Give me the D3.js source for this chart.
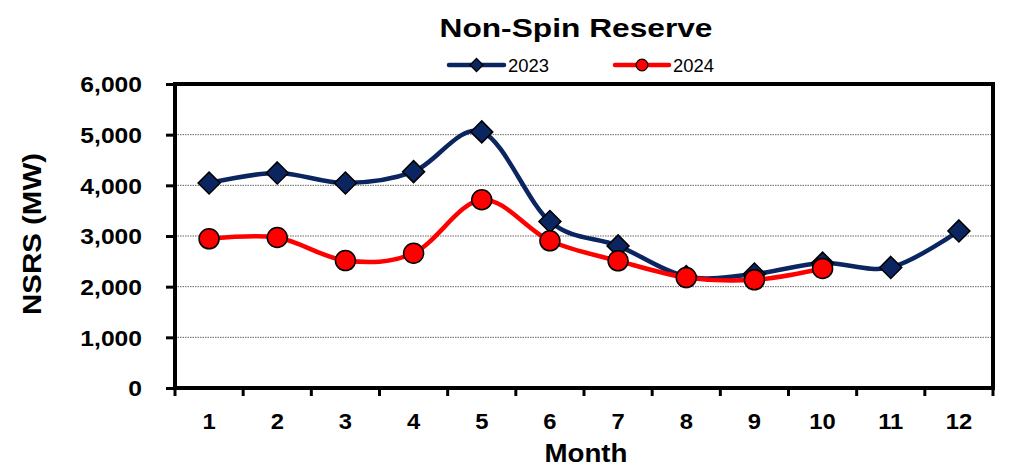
<!DOCTYPE html>
<html>
<head>
<meta charset="utf-8">
<script src="https://cdn.jsdelivr.net/npm/d3@7"></script>
<style>
  html, body { margin: 0; padding: 0; background: #fff; }
  svg { display: block; font-family: "Liberation Sans", Arial, sans-serif; }
</style>
</head>
<body>
<svg id="chart" width="1014" height="470"></svg>
<script>
const months = [1, 2, 3, 4, 5, 6, 7, 8, 9, 10, 11, 12];
const monthLabels = ["1","2","3","4","5","6","7","8","9","10","11","12"];
const series2023 = [4045, 4245, 4045, 4270, 5055, 3285, 2805, 2200, 2250, 2465, 2380, 3100];
const series2024 = [2945, 2970, 2515, 2660, 3715, 2905, 2510, 2180, 2135, 2360];
const yTicks = [0, 1000, 2000, 3000, 4000, 5000, 6000];
const seriesNames = ["2023", "2024"];
const colors = { "2023": "#0b2560", "2024": "#ff0000" };

(function () {
const svg = d3.select("#chart");
const pL = 175, pR = 993, pT = 84, pB = 388;

const x = d3.scaleBand().domain(months).range([pL, pR]).paddingInner(0).paddingOuter(0);
const y = d3.scaleLinear().domain([0, 6000]).range([pB, pT]);
const cx = m => x(m) + x.bandwidth() / 2;

function stretch(sel, factor) {
  sel.each(function () {
    const n = this.getComputedTextLength();
    d3.select(this).attr("textLength", n * factor).attr("lengthAdjust", "spacingAndGlyphs");
  });
}

// gridlines
svg.append("g").selectAll("line")
  .data(yTicks.filter(t => t > 0 && t < 6000))
  .join("line")
  .attr("x1", pL).attr("x2", pR)
  .attr("y1", d => y(d)).attr("y2", d => y(d))
  .attr("stroke", "#666").attr("stroke-width", 1).attr("stroke-dasharray", "1.5,1");

// y axis
const yAxis = d3.axisLeft(y).tickValues(yTicks).tickSize(9).tickPadding(22)
  .tickFormat(d3.format(","));
const gy = svg.append("g").attr("transform", `translate(${pL},0)`).call(yAxis);
gy.select(".domain").remove();
gy.selectAll(".tick line").attr("stroke", "#000").attr("stroke-width", 3);
gy.selectAll(".tick text").attr("font-size", 22).attr("font-weight", "bold")
  .attr("fill", "#000").attr("font-family", "'Liberation Sans', Arial, sans-serif")
  .attr("x", -33).attr("dy", "0.36em");
stretch(gy.selectAll(".tick text"), 1.12);

// x axis ticks at boundaries
const boundaries = months.map(m => x(m)).concat([pR]);
svg.append("g").selectAll("line").data(boundaries).join("line")
  .attr("x1", d => d).attr("x2", d => d)
  .attr("y1", pB).attr("y2", pB + 8)
  .attr("stroke", "#000").attr("stroke-width", 3);

const xAxis = d3.axisBottom(x).tickFormat((d, i) => monthLabels[i]).tickSize(0).tickPadding(0);
const gx = svg.append("g").attr("transform", `translate(0,${pB})`).call(xAxis);
gx.select(".domain").remove();
gx.selectAll(".tick text").attr("font-size", 22).attr("font-weight", "bold")
  .attr("fill", "#000").attr("font-family", "'Liberation Sans', Arial, sans-serif")
  .attr("y", 41).attr("dy", 0);
stretch(gx.selectAll(".tick text"), 1.08);

// frame
svg.append("rect").attr("x", pL).attr("y", pT)
  .attr("width", pR - pL).attr("height", pB - pT)
  .attr("fill", "none").attr("stroke", "#000").attr("stroke-width", 4);

// lines
const line = d3.line().x(d => cx(d.m)).y(d => y(d.v)).curve(d3.curveCardinal.tension(0));
const d23 = series2023.map((v, i) => ({ m: months[i], v }));
const d24 = series2024.map((v, i) => ({ m: months[i], v }));

const diamond = s => `M0,${-s}L${s},0L0,${s}L${-s},0Z`;

svg.append("path").datum(d23).attr("d", line).attr("fill", "none")
  .attr("stroke", colors["2023"]).attr("stroke-width", 4.5);
svg.append("g").selectAll("path").data(d23).join("path")
  .attr("transform", d => `translate(${cx(d.m)},${y(d.v)})`)
  .attr("d", diamond(11)).attr("fill", colors["2023"])
  .attr("stroke", "#000").attr("stroke-width", 1.5);

svg.append("path").datum(d24).attr("d", line).attr("fill", "none")
  .attr("stroke", colors["2024"]).attr("stroke-width", 4.5);
svg.append("g").selectAll("circle").data(d24).join("circle")
  .attr("cx", d => cx(d.m)).attr("cy", d => y(d.v)).attr("r", 10)
  .attr("fill", colors["2024"]).attr("stroke", "#000").attr("stroke-width", 1.5);

// title
svg.append("text").attr("x", 576).attr("y", 37).attr("text-anchor", "middle")
  .attr("font-size", 26).attr("font-weight", "bold")
  .attr("textLength", 273).attr("lengthAdjust", "spacingAndGlyphs")
  .text("Non-Spin Reserve");

// legend
const legendItems = [
  { name: seriesNames[0], x0: 449, x1: 504, tx: 508, shape: "diamond" },
  { name: seriesNames[1], x0: 615, x1: 669, tx: 673, shape: "circle" }
];
const ly = 65;
legendItems.forEach(it => {
  const g = svg.append("g");
  g.append("line").attr("x1", it.x0).attr("x2", it.x1).attr("y1", ly).attr("y2", ly)
    .attr("stroke", colors[it.name]).attr("stroke-width", 4.5).attr("stroke-linecap", "round");
  const mx = (it.x0 + it.x1) / 2;
  if (it.shape === "diamond") {
    g.append("path").attr("transform", `translate(${mx},${ly})`).attr("d", diamond(6.5))
      .attr("fill", colors[it.name]).attr("stroke", "#000").attr("stroke-width", 1.3);
  } else {
    g.append("circle").attr("cx", mx).attr("cy", ly).attr("r", 5.8)
      .attr("fill", colors[it.name]).attr("stroke", "#000").attr("stroke-width", 1.3);
  }
  g.append("text").attr("x", it.tx).attr("y", ly + 6.5).attr("font-size", 18)
    .attr("textLength", 41).attr("lengthAdjust", "spacingAndGlyphs")
    .text(it.name);
});

// axis titles
svg.append("text").attr("x", 586).attr("y", 462).attr("text-anchor", "middle")
  .attr("font-size", 26.5).attr("font-weight", "bold")
  .attr("textLength", 83).attr("lengthAdjust", "spacingAndGlyphs").text("Month");

svg.append("text").attr("transform", "translate(41,234) rotate(-90)")
  .attr("text-anchor", "middle").attr("font-size", 25).attr("font-weight", "bold")
  .attr("textLength", 162).attr("lengthAdjust", "spacingAndGlyphs").text("NSRS (MW)");
})();
</script>
</body>
</html>
